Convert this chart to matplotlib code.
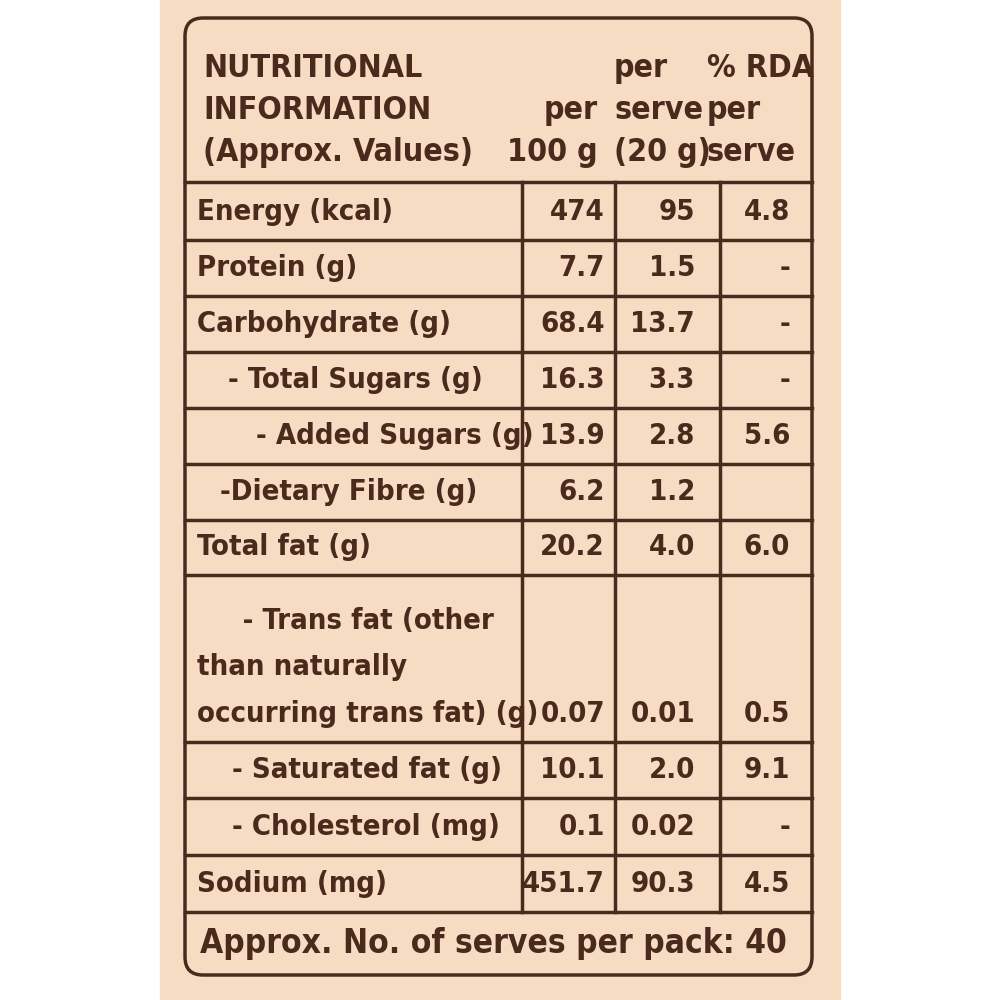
import matplotlib
matplotlib.use("Agg")
import matplotlib.pyplot as plt
from matplotlib.patches import FancyBboxPatch, Rectangle

nutrients = ["Energy (kcal)", "Protein (g)", "Carbohydrate (g)", "- Total Sugars (g)",
             "- Added Sugars (g)", "-Dietary Fibre (g)", "Total fat (g)",
             "     - Trans fat (other\nthan naturally\noccurring trans fat) (g)",
             "- Saturated fat (g)", "- Cholesterol (mg)", "Sodium (mg)"]
per100 = ["474", "7.7", "68.4", "16.3", "13.9", "6.2", "20.2", "0.07", "10.1", "0.1", "451.7"]
perserve = ["95", "1.5", "13.7", "3.3", "2.8", "1.2", "4.0", "0.01", "2.0", "0.02", "90.3"]
rda = ["4.8", "-", "-", "-", "5.6", "", "6.0", "0.5", "9.1", "-", "4.5"]
headers = ["NUTRITIONAL\nINFORMATION\n(Approx. Values)", "per\n100 g", "per\nserve\n(20 g)", "% RDA\nper\nserve"]
footer = "Approx. No. of serves per pack: 40"

row_edges = [182, 240, 296, 352, 408, 464, 520, 575, 742, 798, 855, 912]
col_edges = [185, 522, 615, 720, 812]
indents = [197, 197, 197, 228, 256, 220, 197, 197, 232, 232, 197]
brown = "#4b2a1e"
fs = 21

fig = plt.figure(figsize=(10, 10), dpi=100)
ax = fig.add_axes([0, 0, 1, 1])
ax.set_xlim(0, 1000); ax.set_ylim(1000, 0); ax.axis("off")
ax.add_patch(Rectangle((160, 0), 680, 1000, color="#f6dcc3", zorder=0))
ax.add_patch(FancyBboxPatch((col_edges[0], 18), col_edges[-1]-col_edges[0], 957,
             boxstyle="round,pad=0,rounding_size=18", fill=False, ec=brown, lw=2.5))
for y in row_edges:
    ax.plot([col_edges[0], col_edges[-1]], [y, y], color=brown, lw=2.5)
for x in col_edges[1:-1]:
    ax.plot([x, x], [row_edges[0], row_edges[-1]], color=brown, lw=2.5)

kw = dict(color=brown, fontsize=fs, fontweight="bold", family="DejaVu Sans",
          fontstretch="condensed", linespacing=1.85)
hkw = dict(kw, fontsize=23, linespacing=1.45)
ax.text(203, 168, headers[0], ha="left", va="bottom", **hkw)
ax.text(598, 168, headers[1], ha="right", va="bottom", **hkw)
ax.text(614, 168, headers[2], ha="left", va="bottom", **hkw)
ax.text(707, 168, headers[3], ha="left", va="bottom", **hkw)

for i, name in enumerate(nutrients):
    yb = row_edges[i+1] - 14
    ax.text(indents[i], yb, name, ha="left", va="bottom", **kw)
    ax.text(605, yb, per100[i], ha="right", va="bottom", **kw)
    ax.text(695, yb, perserve[i], ha="right", va="bottom", **kw)
    ax.text(790, yb, rda[i], ha="right", va="bottom", **kw)
ax.text(200, 960, footer, ha="left", va="bottom", **dict(kw, fontsize=24))
fig.savefig("out.png", dpi=100)
